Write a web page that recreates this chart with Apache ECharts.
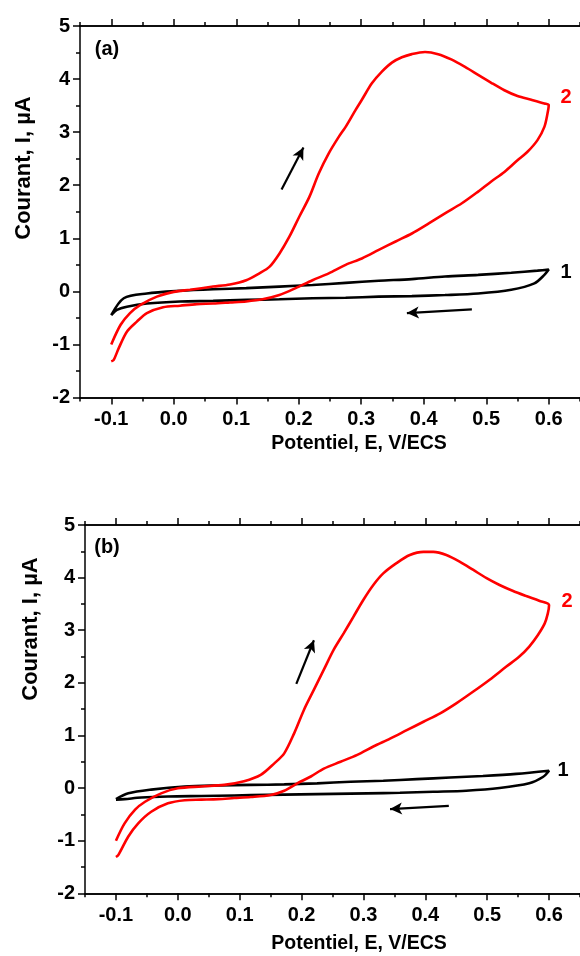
<!DOCTYPE html>
<html>
<head>
<meta charset="utf-8">
<script src="https://cdn.jsdelivr.net/npm/echarts@6/dist/echarts.min.js"></script>
<style>
html,body{margin:0;padding:0;background:#fff;}
#chart{width:580px;height:956px;}
</style>
</head>
<body>
<div id="chart"></div>
<script>
// ---- Data (Potentiel E in V/ECS, Courant I in µA) ----
const xMajorTicks = [-0.1, 0.0, 0.1, 0.2, 0.3, 0.4, 0.5, 0.6];
const xMinorTicks = [-0.15, -0.05, 0.05, 0.15, 0.25, 0.35, 0.45, 0.55, 0.65];

// Panel (a), curve 2 (red)
const curveA2 = [
  [-0.1,-1.0],[-0.085,-0.63],[-0.07,-0.41],[-0.054,-0.26],[-0.027,-0.1],[0.0,-0.01],[0.026,0.03],[0.063,0.09],[0.09,0.13],[0.116,0.21],
  [0.137,0.34],[0.153,0.46],[0.169,0.71],[0.185,1.03],[0.201,1.41],[0.217,1.78],[0.232,2.22],[0.248,2.6],[0.264,2.91],[0.275,3.1],
  [0.291,3.42],[0.301,3.61],[0.317,3.92],[0.333,4.14],[0.349,4.31],[0.365,4.41],[0.381,4.47],[0.402,4.51],[0.423,4.47],[0.444,4.37],
  [0.466,4.23],[0.487,4.08],[0.508,3.93],[0.529,3.79],[0.55,3.68],[0.572,3.61],[0.593,3.54],[0.6,3.51],
  [0.598,3.35],[0.593,3.1],[0.582,2.85],[0.566,2.63],[0.55,2.47],[0.529,2.25],[0.508,2.07],[0.487,1.88],[0.461,1.66],[0.434,1.47],
  [0.408,1.28],[0.381,1.09],[0.355,0.94],[0.328,0.78],[0.301,0.62],[0.275,0.5],[0.248,0.34],[0.222,0.21],[0.195,0.06],[0.169,-0.07],
  [0.142,-0.15],[0.116,-0.19],[0.09,-0.21],[0.063,-0.23],[0.037,-0.24],[0.01,-0.27],[-0.017,-0.3],[-0.043,-0.41],[-0.059,-0.57],[-0.075,-0.76],
  [-0.088,-1.07],[-0.096,-1.29],[-0.1,-1.32]
];
// Panel (a), curve 1 (black)
const curveA1 = [
  [-0.1,-0.45],[-0.08,-0.13],[-0.043,-0.04],[0.01,0.01],[0.063,0.04],[0.116,0.06],[0.169,0.09],[0.222,0.12],[0.275,0.16],[0.328,0.2],
  [0.381,0.23],[0.434,0.28],[0.487,0.31],[0.54,0.35],[0.582,0.39],[0.6,0.41],
  [0.593,0.31],[0.577,0.15],[0.54,0.03],[0.487,-0.04],[0.434,-0.07],[0.381,-0.09],[0.328,-0.1],[0.275,-0.12],[0.222,-0.13],[0.169,-0.15],
  [0.116,-0.16],[0.063,-0.18],[0.01,-0.19],[-0.043,-0.23],[-0.075,-0.29],[-0.091,-0.35],[-0.1,-0.45]
];
// Panel (b), curve 2 (red)
const curveB2 = [
  [-0.1,-1.0],[-0.086,-0.67],[-0.069,-0.41],[-0.053,-0.26],[-0.027,-0.1],[0.0,-0.005],[0.038,0.03],[0.075,0.06],[0.107,0.13],[0.134,0.25],
  [0.156,0.47],[0.172,0.66],[0.188,1.04],[0.204,1.49],[0.22,1.87],[0.236,2.25],[0.252,2.63],[0.268,2.94],[0.284,3.26],[0.3,3.58],
  [0.316,3.86],[0.332,4.08],[0.354,4.28],[0.375,4.43],[0.397,4.49],[0.413,4.49],[0.434,4.43],[0.456,4.3],[0.477,4.15],[0.499,3.99],
  [0.52,3.86],[0.541,3.75],[0.563,3.65],[0.584,3.56],[0.6,3.48],
  [0.598,3.32],[0.593,3.13],[0.582,2.91],[0.568,2.69],[0.552,2.5],[0.531,2.31],[0.504,2.06],[0.477,1.83],[0.45,1.61],[0.424,1.42],
  [0.397,1.26],[0.37,1.1],[0.343,0.94],[0.316,0.79],[0.29,0.63],[0.263,0.5],[0.236,0.37],[0.215,0.22],[0.193,0.09],[0.172,-0.05],
  [0.15,-0.13],[0.118,-0.17],[0.091,-0.19],[0.065,-0.21],[0.038,-0.22],[0.011,-0.23],[-0.016,-0.29],[-0.043,-0.45],[-0.064,-0.67],[-0.08,-0.92],
  [-0.096,-1.27],[-0.1,-1.31]
];
// Panel (b), curve 1 (black)
const curveB1 = [
  [-0.1,-0.21],[-0.08,-0.1],[-0.043,-0.03],[0.011,0.03],[0.065,0.05],[0.118,0.06],[0.172,0.07],[0.225,0.09],[0.279,0.12],[0.332,0.14],
  [0.386,0.17],[0.44,0.2],[0.493,0.23],[0.547,0.27],[0.6,0.33],
  [0.59,0.21],[0.568,0.09],[0.52,0.0],[0.466,-0.05],[0.413,-0.07],[0.359,-0.09],[0.306,-0.1],[0.252,-0.11],[0.198,-0.12],[0.145,-0.13],
  [0.091,-0.14],[0.038,-0.15],[-0.016,-0.16],[-0.059,-0.18],[-0.086,-0.21],[-0.1,-0.22]
];
// Sweep-direction arrows [from, to]
const arrowsA = [[[0.1725,1.92],[0.2075,2.71]], [[0.477,-0.34],[0.373,-0.41]]];
const arrowsB = [[[0.1915,1.98],[0.22,2.81]], [[0.438,-0.34],[0.343,-0.40]]];

// ---- Chart ----
const FONT = 'Liberation Sans, Arial, sans-serif';
const chart = echarts.init(document.getElementById('chart'), null, {renderer:'canvas'});

const grids = [
  {left:80, top:26, width:503, height:371.5},
  {left:85, top:525, width:497.6, height:368.3}
];

function xAxes(g){
  const base = {type:'value', gridIndex:g, min:-0.15, max:0.65, splitLine:{show:false},
    axisLine:{show:true, onZero:false, lineStyle:{color:'#000', width:1.5}}};
  return [
    Object.assign({}, base, {position:'bottom',
      axisTick:{show:true, customValues:xMajorTicks, length:7, lineStyle:{color:'#000', width:1.5}},
      axisLabel:{show:true, customValues:xMajorTicks, formatter:v=>(+v).toFixed(1), color:'#000',
        fontSize:20, fontWeight:'bold', fontFamily:FONT, margin:12}}),
    Object.assign({}, base, {position:'bottom',
      axisTick:{show:true, customValues:xMinorTicks, length:4, lineStyle:{color:'#000', width:1.5}},
      axisLabel:{show:false}}),
    Object.assign({}, base, {position:'top',
      axisTick:{show:true, customValues:xMajorTicks, length:7, lineStyle:{color:'#000', width:1.5}},
      axisLabel:{show:false}}),
    Object.assign({}, base, {position:'top',
      axisTick:{show:true, customValues:xMinorTicks, length:4, lineStyle:{color:'#000', width:1.5}},
      axisLabel:{show:false}})
  ];
}
function yAxis(g){
  return {type:'value', gridIndex:g, position:'left', min:-2, max:5, interval:1, splitLine:{show:false},
    axisLine:{show:true, onZero:false, lineStyle:{color:'#000', width:1.5}},
    axisTick:{show:true, length:7, lineStyle:{color:'#000', width:1.5}},
    minorTick:{show:true, splitNumber:2, length:4, lineStyle:{color:'#000', width:1.5}},
    axisLabel:{color:'#000', fontSize:20, fontWeight:'bold', fontFamily:FONT, margin:10}};
}

function curve(data, color, xi, yi){
  return {type:'line', data:data, xAxisIndex:xi, yAxisIndex:yi, showSymbol:false, symbol:'none',
    smooth:0.3, lineStyle:{color:color, width:2.6}, silent:true, z:3};
}
function arrows(list, xi, yi){
  return {type:'line', data:[], xAxisIndex:xi, yAxisIndex:yi, silent:true,
    markLine:{silent:true, symbol:['none','arrow'], symbolSize:[9,12], animation:false,
      lineStyle:{color:'#000', width:2.2, type:'solid'}, label:{show:false},
      data:list.map(a=>[{coord:a[0]},{coord:a[1]}])}};
}

const txt = (x,y,s,color,size,rot)=>({type:'text', x:x, y:y, rotation:rot||0,
  style:{text:s, fill:color, font:'bold '+size+'px '+FONT, textAlign:'center', textVerticalAlign:'middle'}});

const option = {
  animation:false,
  backgroundColor:'#fff',
  grid:grids,
  xAxis:[...xAxes(0), ...xAxes(1)],
  yAxis:[yAxis(0), yAxis(1)],
  series:[
    curve(curveA1,'#000000',0,0),
    curve(curveA2,'#ff0000',0,0),
    arrows(arrowsA,0,0),
    curve(curveB1,'#000000',4,1),
    curve(curveB2,'#ff0000',4,1),
    arrows(arrowsB,4,1)
  ],
  graphic:[
    txt(107,49,'(a)','#000',20),
    txt(107,547,'(b)','#000',20),
    txt(566,97,'2','#ff0000',20),
    txt(566,272,'1','#000',20),
    txt(567,601,'2','#ff0000',20),
    txt(563,770,'1','#000',20),
    txt(359,444,'Potentiel, E, V/ECS','#000',19.5),
    txt(359,944,'Potentiel, E, V/ECS','#000',19.5),
    txt(24,168,'Courant, I, µA','#000',22),
    txt(31,629,'Courant, I, µA','#000',22)
  ]
};
// rotate the y-axis titles
option.graphic[8].rotation = Math.PI/2;
option.graphic[9].rotation = Math.PI/2;
chart.setOption(option);
</script>
</body>
</html>
